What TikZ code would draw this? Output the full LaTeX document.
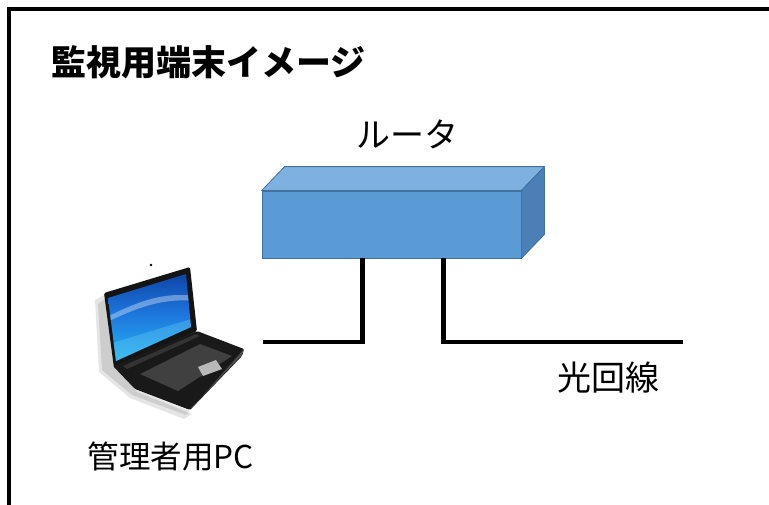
\documentclass[tikz,border=0pt]{standalone}
\usepackage{fontspec}
\usetikzlibrary{calc}
\newfontfamily\jp{Noto Sans CJK JP}
\definecolor{routerfront}{HTML}{5B9BD5}
\definecolor{routertop}{HTML}{7FB1E0}
\definecolor{routerside}{HTML}{4A80B6}
\definecolor{routeredge}{HTML}{41719C}
\definecolor{scrtop}{HTML}{0B3A9E}
\definecolor{scrmid}{HTML}{1E78DE}
\definecolor{scrlow}{HTML}{28B8F2}
\begin{document}
\begin{tikzpicture}[x=1pt,y=-1pt,
  wire/.style={line width=4.5pt, line join=miter, line cap=butt},
  label/.style={font=\jp\fontsize{34}{38}\selectfont, inner sep=0pt},
  smalllabel/.style={font=\jp\fontsize{31.5}{34}\selectfont, inner sep=0pt},
  titlelabel/.style={font=\jp\bfseries\fontsize{35}{40}\selectfont, inner sep=0pt},
  routerbox/.style={draw=routeredge, fill=routerfront, line width=0.8pt,
    minimum width=259pt, minimum height=67pt, inner sep=0pt},
  face/.style={draw=routeredge, line width=0.8pt, line join=round}]

\useasboundingbox (0,0) rectangle (769,504);
\fill[white] (0,0) rectangle (769,504);

% outer frame (runs past the right and bottom edges)
\begin{scope}
  \clip (0,0) rectangle (769,504);
  \draw[line width=4pt] (8.5,9) rectangle (820,560);
\end{scope}

% title
\node[titlelabel] (title) at (208.5,62) {監視用端末イメージ};

% router: front face as a node, top and side faces from its anchors
\node[routerbox] (router) at (391.5,224.5) {};
\filldraw[face, fill=routertop] (router.north west) -- ++(23,-24)
  -- ($(router.north east)+(23,-24)$) -- (router.north east) -- cycle;
\filldraw[face, fill=routerside] (router.north east) -- ++(23,-24)
  -- ($(router.south east)+(23,-24)$) -- (router.south east) -- cycle;
\node[label] (routerlabel) at (407,134) {ルータ};

% laptop
\coordinate (pc) at (170,340);
\begin{scope}
  % soft shadow
  \fill[black, opacity=0.10] (95,300) -- (106,294) -- (116,368) -- (137,392)
    -- (192,414) -- (184,419) -- (130,398) -- (99,372) -- cycle;
  \fill[black, opacity=0.10] (98,304) -- (106,298) -- (116,366) -- (137,390)
    -- (190,411) -- (186,415) -- (132,395) -- (102,370) -- cycle;
  % lid
  \fill[black!92, rounded corners=1.5pt] (104,293) -- (190,267) -- (197,331)
    -- (114,368) -- cycle;
  % display
  \begin{scope}
    \clip (108,298) -- (186,274) -- (191,327) -- (116,361) -- cycle;
    \shade[top color=scrtop, bottom color=scrlow, middle color=scrmid]
      (100,265) rectangle (200,365);
    \fill[white, opacity=0.35] (105,318) .. controls (140,300) and (165,292) .. (195,296)
      -- (195,301) .. controls (165,298) and (140,306) .. (105,323) -- cycle;
    \fill[cyan!60, opacity=0.35] (105,345) .. controls (140,335) and (170,325) .. (195,318)
      -- (195,335) -- (105,365) -- cycle;
  \end{scope}
  % base
  \fill[black!90, rounded corners=1.5pt] (113,366) -- (197,331) -- (244,349)
    -- (242,356) -- (190,410) -- (135,389) -- cycle;
  \fill[black!70] (192,407) -- (242,355) -- (244,349) -- (190,410) -- cycle;
  % keyboard
  \fill[black!75] (140,374) -- (200,344) -- (232,356) -- (178,391) -- cycle;
  \fill[black!80] (123,366) -- (196,334) -- (200,336) -- (127,369) -- cycle;
  % touchpad
  \fill[gray!55] (198,367) -- (216,360) -- (222,369) -- (203,376) -- cycle;
\end{scope}
\fill[black] (151,265) circle (1.3);
\node[smalllabel] (pclabel) at (171,457) {管理者用PC};

% cabling
\coordinate (pcport) at (263,342);
\coordinate (fiber) at (683,342);
\draw[wire] (pcport) -| ($(router.south west)+(101,0)$);
\draw[wire] ($(router.south west)+(182,0)$) |- (fiber);
\node[label] (fiberlabel) at (608,378) {光回線};

\end{tikzpicture}
\end{document}
